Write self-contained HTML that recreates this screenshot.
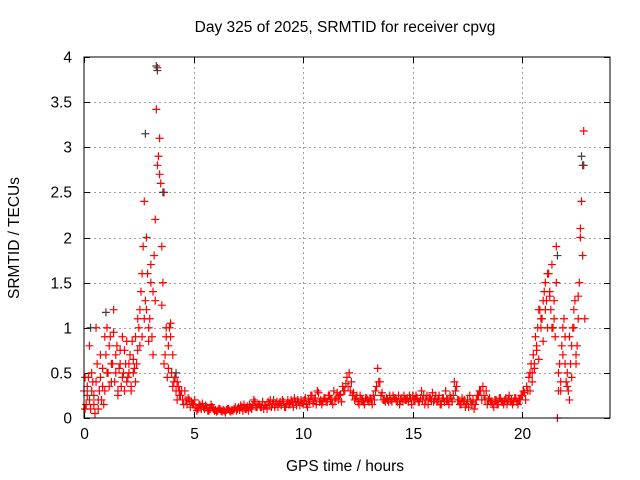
<!DOCTYPE html>
<html><head><meta charset="utf-8"><style>
html,body{margin:0;padding:0;background:#fff;}
svg{display:block;font-family:"Liberation Sans",sans-serif;}
</style></head><body>
<svg id="chart" width="640" height="480" viewBox="0 0 640 480">
<rect width="640" height="480" fill="#fff"/>
<text x="345" y="32" font-size="15.5" text-anchor="middle">Day 325 of 2025, SRMTID for receiver cpvg</text>
<text x="345" y="471" font-size="15.5" text-anchor="middle">GPS time / hours</text>
<text transform="translate(19,238) rotate(-90)" font-size="15.5" text-anchor="middle">SRMTID / TECUs</text>
<g id="grid"></g>
<g id="ticks"></g>
<g id="marksR"></g>
<g id="marksK"></g>
<rect x="84" y="57" width="526" height="361" fill="none" stroke="#000" stroke-width="1"/>
</svg>
<script>
const xTicks=[0,5,10,15,20];
const yTicks=[0,0.5,1,1.5,2,2.5,3,3.5,4];
const yTickLabels=["0","0.5","1","1.5","2","2.5","3","3.5","4"];
const sampleStep=0.1;
const redValsA=[0.3,0.15,0.45,0.1,0.4,0.05,0.6,0.3,0.2,0.15,
0.7,0.5,0.9,0.6,0.4,0.8,0.55,0.35,0.5,0.6,
0.45,0.7,0.85,0.55,0.6,1.0,1.4,1.9,1.3,1.6,
1.1,0.9,1.8,3.42,2.9,2.6,1.5,0.7,0.45,1.0,
0.5,0.4,0.3,0.35,0.25,0.2,0.3,0.15,0.2,0.18,
0.15,0.12,0.1,0.14,0.16,0.1,0.12,0.08,0.15,0.1,
0.09,0.08,0.1,0.07,0.08,0.09,0.1,0.07,0.08,0.12,
0.1,0.09,0.12,0.15,0.1,0.08,0.12,0.14,0.18,0.12,
0.15,0.12,0.1,0.14,0.18,0.2,0.15,0.12,0.18,0.16,
0.14,0.18,0.12,0.2,0.15,0.17,0.22,0.14,0.18,0.2,
0.16,0.22,0.12,0.18,0.25,0.2,0.15,0.28,0.2,0.18,
0.22,0.18,0.25,0.2,0.3,0.22,0.2,0.26,0.35,0.3,
0.45,0.5,0.4,0.28,0.22,0.18,0.25,0.2,0.15,0.22,
0.18,0.2,0.25,0.3,0.55,0.4,0.28,0.2,0.22,0.18,
0.2,0.25,0.22,0.18,0.15,0.22,0.25,0.2,0.18,0.22,
0.25,0.2,0.22,0.18,0.3,0.25,0.2,0.15,0.22,0.28,
0.2,0.18,0.25,0.15,0.22,0.3,0.2,0.25,0.18,0.4,
0.35,0.2,0.15,0.18,0.12,0.2,0.25,0.15,0.1,0.2,
0.25,0.3,0.35,0.2,0.15,0.22,0.18,0.12,0.2,0.15,
0.22,0.18,0.2,0.15,0.25,0.2,0.18,0.22,0.15,0.2,
0.25,0.28,0.35,0.45,0.6,0.7,0.9,1.0,1.2,1.1,
1.4,1.3,1.6,1.2,1.0,0.9,0.0,0.6,0.8,1.1,
0.4,0.3,0.6,1.0,1.3,0.8,1.5,2.4,3.18];
const redValsB=[0.1,0.35,0.2,0.5,0.25,1.0,0.1,0.45,0.35,0.9,
0.5,0.8,0.4,1.2,0.7,0.3,0.6,0.9,0.75,0.4,
0.6,0.35,0.5,0.9,0.75,1.2,0.9,1.1,2.0,1.0,
1.7,1.4,2.2,3.88,2.7,1.9,2.5,1.0,0.8,0.9,
0.35,0.45,0.2,0.25,0.3,0.15,0.2,0.22,0.12,0.15,
0.2,0.08,0.15,0.1,0.12,0.14,0.08,0.1,0.12,0.08,
0.07,0.1,0.08,0.09,0.06,0.1,0.08,0.09,0.1,0.08,
0.12,0.14,0.08,0.1,0.13,0.15,0.1,0.2,0.12,0.15,
0.12,0.18,0.14,0.1,0.15,0.12,0.2,0.15,0.12,0.18,
0.2,0.12,0.16,0.15,0.2,0.12,0.18,0.2,0.14,0.16,
0.2,0.15,0.2,0.25,0.16,0.22,0.3,0.18,0.15,0.22,
0.18,0.25,0.2,0.15,0.2,0.28,0.25,0.18,0.3,0.38,
0.35,0.3,0.25,0.2,0.25,0.15,0.2,0.18,0.22,0.2,
0.22,0.15,0.2,0.35,0.4,0.25,0.2,0.18,0.2,0.25,
0.18,0.22,0.2,0.25,0.2,0.18,0.2,0.22,0.25,0.15,
0.2,0.25,0.18,0.22,0.2,0.15,0.25,0.22,0.2,0.18,
0.25,0.2,0.15,0.22,0.18,0.2,0.15,0.22,0.25,0.3,
0.2,0.15,0.22,0.2,0.15,0.12,0.18,0.2,0.15,0.25,
0.3,0.2,0.25,0.3,0.2,0.18,0.15,0.2,0.15,0.22,
0.18,0.15,0.22,0.2,0.18,0.15,0.22,0.18,0.2,0.25,
0.3,0.2,0.3,0.5,0.5,0.6,0.8,1.2,1.0,1.3,
1.2,1.6,1.4,1.0,1.3,1.9,0.5,0.3,0.7,0.9,
0.5,0.2,0.8,1.2,0.6,1.1,2.0,2.8,1.1];
const earlyHours=[0.05,0.15,0.25,0.35,0.45,0.55,0.65,0.75,0.85,0.95,1.05,1.15,1.25,1.35,1.45,1.55,1.65,1.75,1.85,1.95,2.05,2.15,2.25,2.35,2.45,2.55,2.65,2.75,2.85,2.95,3.05,3.15,3.25,3.35,3.45,3.55,3.65,3.75,3.85,3.95,4.05,4.15,4.25,4.35];
const earlyVals=[0.45,0.25,0.8,0.3,0.15,0.4,0.2,0.7,0.55,0.3,1.0,0.35,0.6,0.95,0.5,0.25,0.75,0.45,0.3,0.85,0.5,0.3,0.65,0.4,1.1,0.8,1.6,2.4,1.2,0.85,1.5,0.7,1.3,2.8,3.1,1.25,0.6,0.9,0.55,1.05,0.7,0.45,0.4,0.3];
const lateHours=[20.35,20.45,20.55,20.65,20.75,20.85,20.95,21.05,21.15,21.25,21.35,21.45,21.55,21.65,21.75,21.85,21.95,22.05,22.15,22.25,22.35,22.45,22.55,22.65,22.75];
const lateVals=[0.3,0.4,0.55,0.75,0.65,1.1,0.85,1.5,1.0,1.35,1.7,1.1,1.5,0.3,0.4,1.0,0.6,0.35,0.9,0.45,1.0,0.7,1.35,2.1,1.8];
const darkHours=[0.3,1.0,2.8,3.3,3.35,3.6,4.2,21.6,22.8,22.7];
const darkVals=[1.0,1.17,3.15,3.9,3.85,2.5,0.5,1.8,2.8,2.9];

const NS="http://www.w3.org/2000/svg";
const X0=84,X1=610,Y0=418,Y1=57,XMAX=24,YMAX=4;
function xs(h){return X0+(X1-X0)*h/XMAX;}
function ys(v){return Y0-(Y0-Y1)*v/YMAX;}
const grid=document.getElementById('grid'),ticks=document.getElementById('ticks');
function line(g,x1,y1,x2,y2,st,dash){const l=document.createElementNS(NS,'line');l.setAttribute('x1',x1);l.setAttribute('y1',y1);l.setAttribute('x2',x2);l.setAttribute('y2',y2);l.setAttribute('stroke',st);l.setAttribute('stroke-width',1);if(dash)l.setAttribute('stroke-dasharray',dash);g.appendChild(l);return l;}
function txt(s,x,y,anchor){const t=document.createElementNS(NS,'text');t.setAttribute('x',x);t.setAttribute('y',y);t.setAttribute('font-size','15.5');t.setAttribute('text-anchor',anchor);t.textContent=s;ticks.appendChild(t);return t;}
xTicks.forEach(h=>{const x=Math.round(xs(h))+0.5;
 if(h>0){const g=line(grid,x,Y1,x,Y0,'#a0a0a0','2,3');
 
 }
 line(ticks,x,Y0,x,Y0-6,'#000');line(ticks,x,Y1,x,Y1+6,'#000');
 const t=txt(String(h),x,Y0+21,'middle');
 
 });
yTicks.forEach((v,i)=>{const y=Math.round(ys(v))+0.5;
 if(v>0&&v<YMAX){const g=line(grid,X0,y,X1,y,'#a0a0a0','2,3');
 
 }
 line(ticks,X0,y,X0+6,y,'#000');line(ticks,X1,y,X1-6,y,'#000');
 const t=txt(yTickLabels[i],X0-12,y+5,'end');
 
 });
function plus(g,h,v,col){const x=xs(h),y=ys(v);const p=document.createElementNS(NS,'path');
 p.setAttribute('d',`M${x-4} ${y}H${x+4}M${x} ${y-4}V${y+4}`);p.setAttribute('stroke',col);p.setAttribute('stroke-width',1.2);p.setAttribute('fill','none');
 
 
 g.appendChild(p);}
const gK=document.getElementById('marksK'),gR=document.getElementById('marksR');
darkHours.forEach((h,i)=>plus(gK,h,darkVals[i],'#404040'));
redValsA.forEach((v,i)=>plus(gR,i*sampleStep,v,'#ff0000'));
redValsB.forEach((v,i)=>plus(gR,i*sampleStep+0.05,v,'#ff0000'));
earlyHours.forEach((h,i)=>plus(gR,h,earlyVals[i],'#ff0000'));
lateHours.forEach((h,i)=>plus(gR,h,lateVals[i],'#ff0000'));
document.getElementById('chart').appendChild(gK);
</script>
</body></html>
